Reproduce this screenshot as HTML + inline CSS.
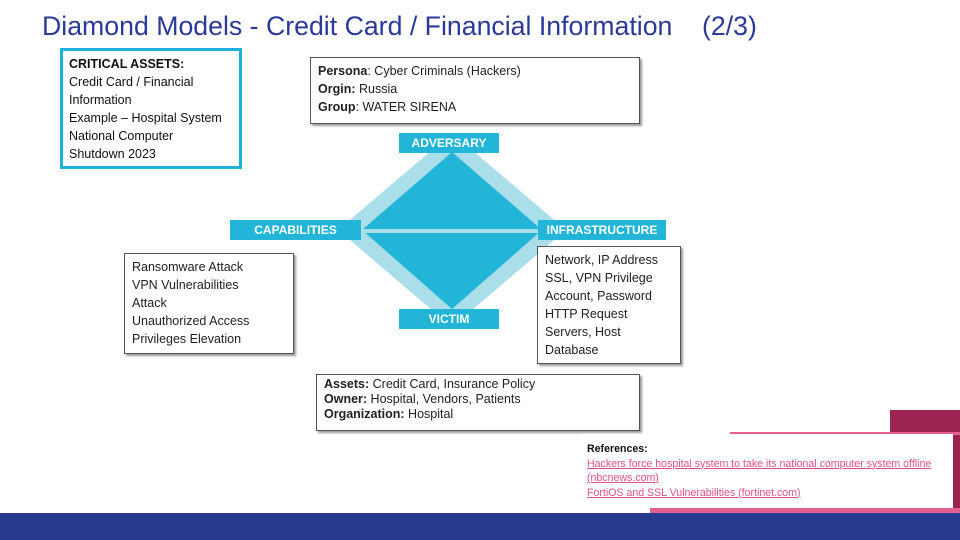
<!DOCTYPE html>
<html><head><meta charset="utf-8"><style>
body{margin:0}
#p{position:relative;width:960px;height:540px;background:#fff;overflow:hidden;font-family:"Liberation Sans",sans-serif}
.a{position:absolute}
.box{position:absolute;background:#fff;border:1px solid #555;box-shadow:2px 2px 2px #999;font-size:12.5px;line-height:18px;color:#222;padding:4px 7px;box-sizing:border-box}
.lab{position:absolute;background:#22b5d8;color:#fff;font-size:12px;font-weight:bold;text-align:center;line-height:20px;height:20px}
.ref a{color:#e0508a;text-decoration:underline}
</style></head><body><div id="p">
<div class="a" style="left:42px;top:11px;font-size:26.7px;color:#2b3a9a;white-space:nowrap">Diamond Models - Credit Card / Financial Information&nbsp;&nbsp;&nbsp; (2/3)</div>
<div class="a" style="left:60px;top:48px;width:182px;height:121px;border:3px solid #1fb0dc;box-sizing:border-box;padding:4px 6px 4px 6px;font-size:12.5px;line-height:18px;color:#111"><b>CRITICAL ASSETS:</b><br>Credit Card / Financial<br>Information<br>Example – Hospital System<br>National Computer<br>Shutdown 2023</div>
<div class="box" style="left:310px;top:57px;width:330px;height:67px;padding-top:4px"><b>Persona</b>: Cyber Criminals (Hackers)<br><b>Orgin:</b> Russia<br><b>Group</b>: WATER SIRENA</div>
<svg class="a" style="left:0;top:0" width="960" height="540">
<polygon points="452,133 338,230 452,327 566,230" fill="#aadfea"/>
<polygon points="452,152 362,230 452,309 542,230" fill="#22b5d8"/>
<rect x="362" y="229" width="178" height="4" fill="#aadfea"/>
</svg>
<div class="lab" style="left:399px;top:133px;width:100px">ADVERSARY</div>
<div class="lab" style="left:230px;top:220px;width:131px">CAPABILITIES</div>
<div class="lab" style="left:538px;top:220px;width:128px">INFRASTRUCTURE</div>
<div class="lab" style="left:399px;top:309px;width:100px">VICTIM</div>
<div class="box" style="left:124px;top:253px;width:170px;height:101px">Ransomware Attack<br>VPN Vulnerabilities<br>Attack<br>Unauthorized Access<br>Privileges Elevation</div>
<div class="box" style="left:537px;top:246px;width:144px;height:118px">Network, IP Address<br>SSL, VPN Privilege<br>Account, Password<br>HTTP Request<br>Servers, Host<br>Database</div>
<div class="box" style="left:316px;top:374px;width:324px;height:57px;line-height:15px;padding-top:2px"><b>Assets:</b> Credit Card, Insurance Policy<br><b>Owner:</b> Hospital, Vendors, Patients<br><b>Organization:</b> Hospital</div>
<div class="a" style="left:890px;top:410px;width:70px;height:102px;background:#9b2450"></div>
<div class="a" style="left:730px;top:432px;width:230px;height:3px;background:#e5608f"></div>
<div class="a" style="left:650px;top:508px;width:310px;height:5px;background:#e5608f"></div>
<div class="a ref" style="left:580px;top:434px;width:373px;height:74px;background:#fff;font-size:10.6px;line-height:14.5px;padding:8px 0 0 7px;box-sizing:border-box"><b style="color:#111">References:</b><br><a>Hackers force hospital system to take its national computer system offline (nbcnews.com)</a><br><a>FortiOS and SSL Vulnerabilities (fortinet.com)</a></div>
<div class="a" style="left:0;top:513px;width:960px;height:27px;background:#283a8f"></div>
</div></body></html>
